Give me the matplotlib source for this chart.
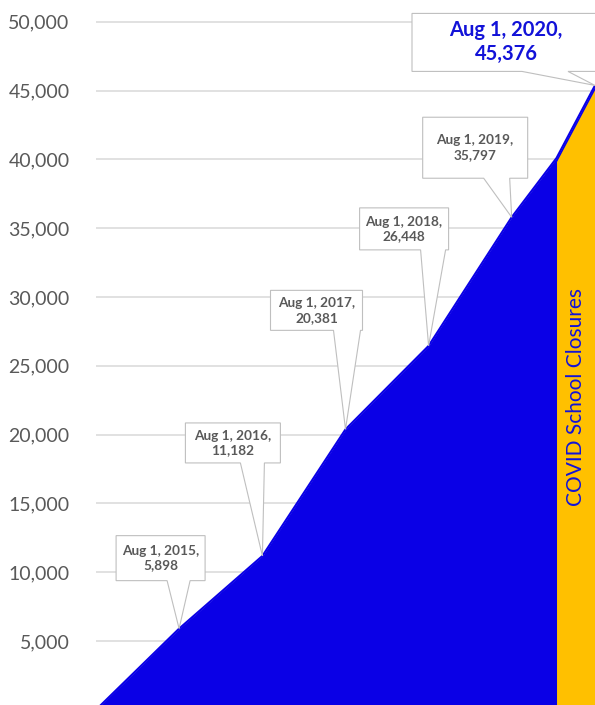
import numpy as np
import pandas as pd
import matplotlib
matplotlib.use("Agg")
import matplotlib.pyplot as plt
import matplotlib.dates as mdates
from matplotlib.patches import Polygon

#! datos
fechas = pd.to_datetime(['2014-08-01', '2015-08-01', '2016-08-01', '2017-08-01',
                         '2018-08-01', '2019-08-01', '2020-02-14', '2020-08-01'])
valores = [0, 5898, 11182, 20381, 26448, 35797, 40100, 45376]
etiquetados = [1, 2, 3, 4, 5, 7]
inicio_cierre = 6  # indice donde empieza la zona naranja
texto_cierre = 'COVID School Closures'
yticks = np.arange(5000, 50001, 5000)

#* colores
azul = '#0A00E6'
azul_txt = '#1212D8'
naranja = '#FFC000'
gris_txt = '#595959'
gris_malla = '#D9D9D9'

#* cajas de los callouts en pixeles relativos a la punta: (izq, der, arriba, abajo, base_izq, base_der)
cajas = {
  1: (-63, 26, -93, -48, -12, 11),
  2: (-77, 18, -133, -93, -22, 2),
  3: (-75, 17, -139, -99, -12, 15),
  4: (-69, 20, -138, -96, -8, 17),
  5: (-89, 16, -100, -39, -28, -2),
  7: (-183, 5, -72, -14, -73, -27),
}

W, H = 595, 705
fig = plt.figure(figsize=(W/100, H/100), dpi=100)
ax = fig.add_axes([96/W, 0, 499/W, 1])

x = mdates.date2num(fechas)
ax.set_xlim(x[0], x[-1])
ax.set_ylim(349, 51584)

#* malla horizontal
for s in ax.spines.values():
  s.set_visible(False)
ax.set_xticks([])
ax.set_yticks(yticks)
ax.set_yticklabels([f'{v:,}' for v in yticks], fontfamily='Lato', fontsize=14, color=gris_txt)
ax.tick_params(axis='y', length=0, pad=19)
ax.grid(axis='y', color=gris_malla, lw=1.1, zorder=0)
ax.set_axisbelow(True)

#! areas
ax.fill_between(x, 0, valores, color=azul, lw=0, zorder=2)
xc = x[inicio_cierre:]
yc = np.array(valores[inicio_cierre:])
ax.fill_between(xc, 0, yc - 250, color=naranja, lw=0, zorder=3)
ax.plot(x, valores, color=azul, lw=1.5, zorder=4, solid_capstyle='butt')

#* texto vertical en la zona naranja
ax.text((xc[0] + xc[-1]) / 2 + 3, 22700, texto_cierre, rotation=90, ha='center', va='center',
        fontfamily='Lato', fontsize=15, color=azul_txt, zorder=5)

#! callouts
fig.canvas.draw()
inv = ax.transData.inverted()
for i in etiquetados:
  tx, ty = ax.transData.transform((x[i], valores[i]))
  izq, der, arr, aba, bi, bd = cajas[i]
  # pixeles de imagen (y hacia abajo) -> display (y hacia arriba)
  pts = [(izq, arr), (der, arr), (der, aba), (bd, aba), (0, 0), (bi, aba), (izq, aba)]
  disp = [(tx + dx, ty - dy) for dx, dy in pts]
  poly = Polygon(inv.transform(disp), closed=True, facecolor='white', edgecolor='#BFBFBF',
                 lw=0.8, zorder=6, clip_on=False)
  ax.add_patch(poly)
  cx, cy = inv.transform((tx + (izq + der) / 2, ty - (arr + aba) / 2))
  fecha_txt = f"{fechas[i].strftime('%b')} 1, {fechas[i].year},"
  if i == 7:
    ax.text(cx, cy, f'{fecha_txt}\n{valores[i]:,}', ha='center', va='center', fontfamily='Lato',
            fontweight='bold', fontsize=14.5, color=azul_txt, linespacing=1.25, zorder=7)
  else:
    ax.text(cx, cy, f'{fecha_txt}\n{valores[i]:,}', ha='center', va='center', fontfamily='Lato',
            fontweight='bold', fontsize=9.8, color=gris_txt, linespacing=1.25, zorder=7)

fig.savefig('out.png', dpi=100)
